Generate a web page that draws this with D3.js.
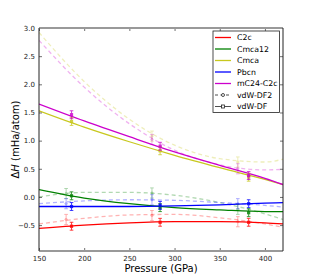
<!DOCTYPE html>
<html>
<head>
<meta charset="utf-8">
<script src="https://cdn.jsdelivr.net/npm/d3@7"></script>
<style>
  body { margin: 0; background: #fff; }
  text { font-family: "DejaVu Sans", sans-serif; }
</style>
</head>
<body>
<div id="chart"></div>
<script>
// phases
var phases = ["C2c", "Cmca12", "Cmca", "Pbcn", "mC24-C2c"];
var colors = ["#ff0000", "#008000", "#c8c81e", "#0000ff", "#cc00cc"];

// pressures where the fitted curves were read
var curveP = [150, 200, 250, 300, 350, 400, 420];

// vdW-DF fits (solid)
var fitDF = [
  [-0.56, -0.50, -0.46, -0.44, -0.44, -0.46, -0.48],
  [0.13, -0.02, -0.12, -0.19, -0.23, -0.26, -0.26],
  [1.53, 1.24, 0.98, 0.74, 0.52, 0.31, 0.22],
  [-0.17, -0.17, -0.17, -0.16, -0.14, -0.11, -0.10],
  [1.65, 1.35, 1.07, 0.80, 0.56, 0.33, 0.22]
];

// vdW-DF2 fits (dashed)
var fitDF2 = [
  [-0.48, -0.38, -0.32, -0.31, -0.37, -0.48, -0.54],
  [0.00, 0.08, 0.08, 0.03, -0.10, -0.30, -0.40],
  [2.92, 2.05, 1.38, 0.92, 0.68, 0.62, 0.67],
  [-0.12, -0.07, -0.05, -0.06, -0.10, -0.15, -0.18],
  [2.78, 1.95, 1.30, 0.83, 0.57, 0.48, 0.49]
];

// data points with error bars
var pointsDFP = [186, 284, 382];
var pointsDF = [
  [-0.52, -0.45, -0.45],
  [0.02, -0.19, -0.28],
  [1.34, 0.82, 0.35],
  [-0.17, -0.15, -0.12],
  [1.46, 0.90, 0.38]
];
var errDF = 0.07;

var pointsDF2P = [180, 275, 370];
var pointsDF2 = [
  [-0.40, -0.33, -0.44],
  [0.06, 0.07, -0.22],
  [null, 1.08, 0.62],
  [-0.12, -0.05, -0.12],
  [null, 1.02, 0.50]
];
var errDF2 = 0.09;

var xTicks = [150, 200, 250, 300, 350, 400];
var yTicks = [-0.5, 0.0, 0.5, 1.0, 1.5, 2.0, 2.5, 3.0];

var svgWidth = 315, svgHeight = 280;
var margin = {top: 28, right: 32, bottom: 29, left: 39};
var width = svgWidth - margin.left - margin.right;
var height = svgHeight - margin.top - margin.bottom;

var svg = d3.select("#chart").append("svg")
  .attr("width", svgWidth)
  .attr("height", svgHeight);

var g = svg.append("g")
  .attr("transform", `translate(${margin.left},${margin.top})`);

var x = d3.scaleLinear().domain([150, 420]).range([0, width]);
var y = d3.scaleLinear().domain([-0.96, 3.0]).range([height, 0]);

g.append("defs").append("clipPath").attr("id", "clip")
  .append("rect").attr("width", width).attr("height", height);

var plot = g.append("g").attr("clip-path", "url(#clip)");

var line = d3.line()
  .x((d, i) => x(curveP[i]))
  .y(d => y(d))
  .curve(d3.curveMonotoneX);

// dashed vdW-DF2 fits
fitDF2.forEach(function(vals, k) {
  plot.append("path")
    .attr("d", line(vals))
    .attr("fill", "none")
    .attr("stroke", colors[k])
    .attr("stroke-opacity", 0.3)
    .attr("stroke-width", 1.3)
    .attr("stroke-dasharray", "4,3");
});

// solid vdW-DF fits
fitDF.forEach(function(vals, k) {
  plot.append("path")
    .attr("d", line(vals))
    .attr("fill", "none")
    .attr("stroke", colors[k])
    .attr("stroke-width", 1.3);
});

function drawPoints(ps, vals, err, opacity, shape) {
  vals.forEach(function(row, k) {
    row.forEach(function(v, i) {
      if (v === null) return;
      var px = x(ps[i]);
      var grp = plot.append("g")
        .attr("stroke", colors[k])
        .attr("fill", colors[k])
        .attr("opacity", opacity);
      grp.append("line")
        .attr("x1", px).attr("x2", px)
        .attr("y1", y(v - err)).attr("y2", y(v + err))
        .attr("stroke-width", 0.9);
      [v - err, v + err].forEach(function(e) {
        grp.append("line")
          .attr("x1", px - 1.8).attr("x2", px + 1.8)
          .attr("y1", y(e)).attr("y2", y(e))
          .attr("stroke-width", 0.9);
      });
      if (shape === "circle") {
        grp.append("circle").attr("cx", px).attr("cy", y(v)).attr("r", 1.1);
      } else {
        grp.append("rect").attr("x", px - 1.1).attr("y", y(v) - 1.1)
          .attr("width", 2.2).attr("height", 2.2);
      }
    });
  });
}

drawPoints(pointsDF2P, pointsDF2, errDF2, 0.35, "circle");
drawPoints(pointsDFP, pointsDF, errDF, 0.85, "square");

// axes with inward ticks
var axisFont = "7px";
var xb = g.append("g").attr("transform", `translate(0,${height})`)
  .call(d3.axisBottom(x).tickValues(xTicks).tickSizeInner(-3).tickSizeOuter(0).tickPadding(5));
var xt = g.append("g")
  .call(d3.axisTop(x).tickValues(xTicks).tickSizeInner(-3).tickSizeOuter(0).tickFormat(""));
var yl = g.append("g")
  .call(d3.axisLeft(y).tickValues(yTicks).tickSizeInner(-3).tickSizeOuter(0).tickPadding(4)
    .tickFormat(d => d3.format(".1f")(d).replace("-", "\u2212")));
var yr = g.append("g").attr("transform", `translate(${width},0)`)
  .call(d3.axisRight(y).tickValues(yTicks).tickSizeInner(-3).tickSizeOuter(0).tickFormat(""));

[xb, xt, yl, yr].forEach(function(a) {
  a.select(".domain").remove();
  a.selectAll("text").attr("font-size", axisFont).attr("fill", "#222");
  a.selectAll("line").attr("stroke", "#333").attr("stroke-width", 0.7);
});

// spines
g.append("line").attr("x1", 0).attr("x2", width).attr("y1", 0).attr("y2", 0)
  .attr("stroke", "#999").attr("stroke-width", 2);
g.append("line").attr("x1", 0).attr("x2", width).attr("y1", height).attr("y2", height)
  .attr("stroke", "#999").attr("stroke-width", 2);
g.append("line").attr("x1", 0).attr("x2", 0).attr("y1", 0).attr("y2", height)
  .attr("stroke", "#222").attr("stroke-width", 1);
g.append("line").attr("x1", width).attr("x2", width).attr("y1", 0).attr("y2", height)
  .attr("stroke", "#222").attr("stroke-width", 1);

// axis labels
g.append("text")
  .attr("x", width / 2).attr("y", height + 21)
  .attr("text-anchor", "middle")
  .attr("font-size", "10px")
  .text("Pressure (GPa)");

var yLab = g.append("text")
  .attr("transform", `translate(-20,${height / 2}) rotate(-90)`)
  .attr("text-anchor", "middle")
  .attr("font-size", "10px");
yLab.append("tspan").text("\u0394");
yLab.append("tspan").attr("font-style", "italic").text("H");
yLab.append("tspan").text(" (mHa/atom)");

// legend
var lg = g.append("g").attr("transform", `translate(${213 - margin.left},${31 - margin.top})`);
lg.append("rect").attr("width", 66.5).attr("height", 81.5)
  .attr("fill", "#fff").attr("stroke", "#222").attr("stroke-width", 0.8);

var legendNames = phases.concat(["vdW-DF2", "vdW-DF"]);
legendNames.forEach(function(name, i) {
  var ly = 6.5 + i * 11.5;
  var row = lg.append("g").attr("transform", `translate(0,${ly})`);
  if (i < phases.length) {
    row.append("line").attr("x1", 2).attr("x2", 18).attr("y1", 0).attr("y2", 0)
      .attr("stroke", colors[i]).attr("stroke-width", 1.3);
  } else {
    row.append("line").attr("x1", 2).attr("x2", 18).attr("y1", 0).attr("y2", 0)
      .attr("stroke", "#222").attr("stroke-width", 0.8)
      .attr("stroke-dasharray", name === "vdW-DF2" ? "3,2.5" : null);
    if (name === "vdW-DF2") {
      row.append("circle").attr("cx", 10).attr("cy", 0).attr("r", 1.5)
        .attr("fill", "#fff").attr("stroke", "#222").attr("stroke-width", 0.8);
    } else {
      row.append("rect").attr("x", 8.5).attr("y", -1.5).attr("width", 3).attr("height", 3)
        .attr("fill", "#fff").attr("stroke", "#222").attr("stroke-width", 0.8);
    }
  }
  row.append("text").attr("x", 24).attr("y", 2.8)
    .attr("font-size", "7.8px").text(name);
});
</script>
</body>
</html>
